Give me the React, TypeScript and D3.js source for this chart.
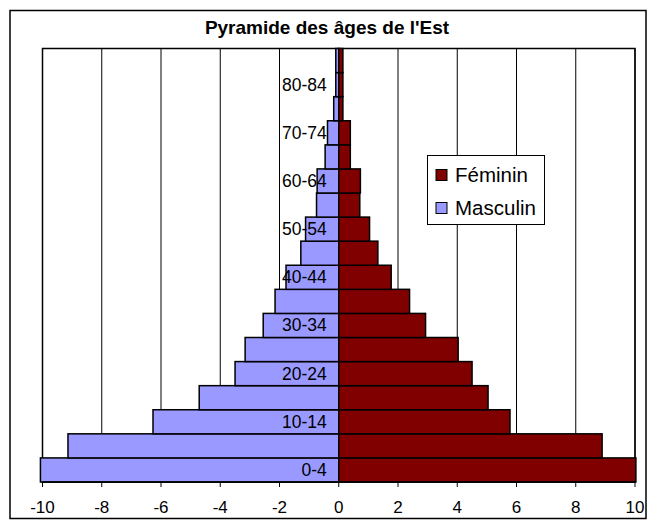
import React from "react";
import * as d3 from "d3";

const categories = ["0-4","5-9","10-14","15-19","20-24","25-29","30-34","35-39","40-44","45-49","50-54","55-59","60-64","65-69","70-74","75-79","80-84","85+"];
const masculin = [10.07, 9.14, 6.27, 4.71, 3.5, 3.16, 2.55, 2.15, 1.78, 1.28, 1.12, 0.75, 0.73, 0.46, 0.38, 0.17, 0.1, 0.1];
const feminin = [10.03, 8.89, 5.78, 5.04, 4.5, 4.03, 2.93, 2.39, 1.77, 1.32, 1.04, 0.71, 0.73, 0.39, 0.39, 0.14, 0.14, 0.14];
const xTicks = [-10, -8, -6, -4, -2, 0, 2, 4, 6, 8, 10];
const title = "Pyramide des âges de l'Est";
const legendLabels = ["Féminin", "Masculin"];

const W = 653, H = 527;
const plot = { left: 42.5, right: 635, top: 48.5, bottom: 482 };
const FEM = "#800000";
const MAS = "#9999FF";
const FONT = "Arial, 'Liberation Sans', sans-serif";

export default function App() {
  const x = d3.scaleLinear().domain([-10, 10]).range([plot.left, plot.right]);
  const y = d3.scaleBand().domain([...categories].reverse()).range([plot.top, plot.bottom]).padding(0);
  const x0 = x(0);
  const bw = y.bandwidth();
  return (
    <svg width={W} height={H} style={{ position: "absolute", left: 0, top: 0, background: "#fff" }} fontFamily={FONT}>
      <rect x={10} y={10.5} width={636} height={508} fill="#fff" stroke="#000" strokeWidth={1.5} />
      <text x={327} y={34} textAnchor="middle" fontWeight="bold" fontSize={19}>{title}</text>
      {/* gridlines */}
      {xTicks.map((t) => (
        <line key={"g" + t} x1={x(t)} x2={x(t)} y1={plot.top} y2={plot.bottom} stroke="#000" strokeWidth={1} />
      ))}
      <rect x={plot.left} y={plot.top} width={plot.right - plot.left} height={plot.bottom - plot.top} fill="none" stroke="#000" strokeWidth={1.5} />
      {/* bars */}
      {categories.map((c, i) => (
        <g key={c}>
          <rect x={x(-masculin[i])} y={y(c)} width={x0 - x(-masculin[i])} height={bw} fill={MAS} stroke="#000" strokeWidth={1.5} />
          <rect x={x0} y={y(c)} width={x(feminin[i]) - x0} height={bw} fill={FEM} stroke="#000" strokeWidth={1.5} />
        </g>
      ))}
      {/* category labels */}
      {categories.map((c, i) => i % 2 === 0 ? (
        <text key={"l" + c} x={x0 - 12} y={(y(c) as number) + bw / 2 + 6} textAnchor="end" fontSize={17.5}>{c}</text>
      ) : null)}
      {/* x axis */}
      <line x1={plot.left} x2={plot.right} y1={plot.bottom} y2={plot.bottom} stroke="#000" strokeWidth={1.5} />
      {xTicks.map((t) => (
        <g key={"t" + t}>
          <line x1={x(t)} x2={x(t)} y1={plot.bottom} y2={plot.bottom + 5} stroke="#000" strokeWidth={1} />
          <text x={x(t)} y={513} textAnchor="middle" fontSize={17}>{t}</text>
        </g>
      ))}
      {/* legend */}
      <rect x={427.5} y={155.5} width={117} height={69} fill="#fff" stroke="#000" strokeWidth={1} />
      {legendLabels.map((l, i) => (
        <g key={l}>
          <rect x={436} y={169.5 + i * 33} width={11} height={11} fill={i === 0 ? FEM : MAS} stroke="#000" strokeWidth={1} />
          <text x={455} y={182 + i * 33} fontSize={20.5}>{l}</text>
        </g>
      ))}
    </svg>
  );
}
